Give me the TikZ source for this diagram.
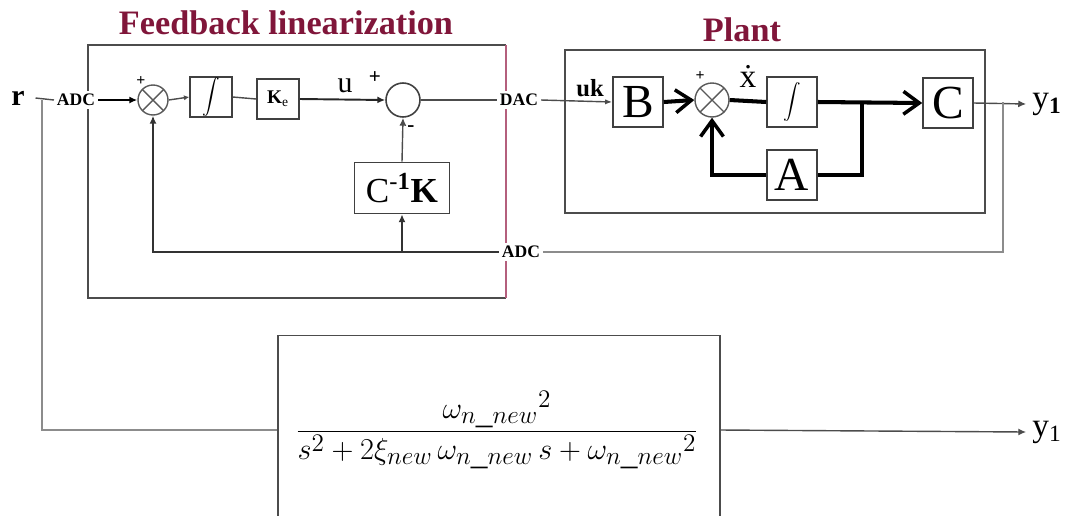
\documentclass[tikz,border=0pt]{standalone}
\usepackage{fontspec}
\setmainfont{Liberation Serif}
\usetikzlibrary{arrows.meta,positioning}
\definecolor{maroon}{RGB}{128,22,58}
\definecolor{rimpink}{RGB}{180,95,125}

\begin{document}
\begin{tikzpicture}[x=0.02cm, y=-0.02cm, >={Latex[length=4.5pt,width=4pt]},
  wire/.style={draw=black!70, line width=0.8pt},
  pale/.style={draw=black!45, line width=0.8pt},
  thk/.style={draw=black, line width=2.3pt},
  barb/.style={-{Straight Barb[length=9pt,width=13pt,line width=2pt]}},
  blk/.style={draw=black!75, line width=0.9pt, minimum width=0.84cm, minimum height=0.8cm, inner sep=0pt},
  pblk/.style={draw=black!75, line width=0.9pt, minimum width=1cm, minimum height=1cm, inner sep=0pt, font=\fontsize{27}{27}\selectfont},
  sumx/.style={circle, draw=black!65, line width=0.8pt, minimum size=0.6cm, inner sep=0pt,
    path picture={\draw[black!65, line width=0.8pt]
      (path picture bounding box.north west) -- (path picture bounding box.south east)
      (path picture bounding box.south west) -- (path picture bounding box.north east);}},
  lab/.style={fill=white, inner sep=1.5pt, font=\fontsize{10}{10}\selectfont\bfseries},
  ttl/.style={text=maroon, font=\fontsize{19.5}{22}\selectfont\bfseries},
  sgn/.style={inner sep=0pt, font=\fontsize{9}{9}\selectfont\bfseries}]
  \useasboundingbox (0,0) rectangle (1078,515);

  % titles
  \node[ttl] (fltitle) at (286,23) {Feedback linearization};
  \node[ttl] (pltitle) at (742,30) {Plant};

  % frames
  \draw[black!70, line width=0.9pt] (506,45) -- (88,45) -- (88,298) -- (506,298);
  \draw[rimpink, line width=0.9pt] (506,45) -- (506,298);
  \draw[black!70, line width=0.9pt] (565,50) rectangle (985,213);

  % feedback linearization blocks
  \node[inner sep=6pt, font=\fontsize{17}{17}\selectfont\bfseries] (r) at (18,98) {r};
  \coordinate (rj) at (42,100);
  \node[lab] (adcin) at (76,100) {ADC};
  \node[sumx] (s1) at (153,100) {};
  \node[blk, font=\fontsize{11}{11}\selectfont] (int1) at (211,97) {$\displaystyle\int$};
  \node[blk, font=\fontsize{11}{11}\selectfont] (ke) at (278,99) {\textbf{K}\textsubscript{e}};
  \node[circle, draw=black!75, line width=0.9pt, minimum size=0.68cm, inner sep=0pt] (s2) at (403,100) {};
  \node[lab] (dac) at (519,100) {DAC};
  \node[blk, minimum width=1.9cm, minimum height=1.02cm, font=\fontsize{20}{20}\selectfont] (cik) at (402,188)
    {C\textsuperscript{-\textbf{1}}\textbf{K}};
  \node[lab] (adcfb) at (521,252) {ADC};
  \coordinate (fbj) at (402,252);

  % signs and signal names
  \node[sgn] (p1) at (141,81) {+};
  \node[sgn, font=\fontsize{12}{12}\selectfont\bfseries] (p2) at (375,78) {+};
  \node[sgn, font=\fontsize{12}{12}\selectfont\bfseries] (m2) at (411,129) {-};
  \node[font=\fontsize{17}{17}\selectfont] (u) at (345,86) {u};

  % plant blocks
  \node[pblk] (B) at (638,102) {B};
  \node[sumx, minimum size=0.68cm] (s3) at (712,100) {};
  \node[pblk, font=\fontsize{17}{17}\selectfont] (int2) at (792,102) {$\displaystyle\int$};
  \node[pblk] (C) at (948,103) {C};
  \node[pblk] (A) at (792,175) {A};
  \coordinate (br) at (862,102);
  \coordinate (yj) at (1003,102);
  \node[font=\fontsize{19}{19}\selectfont] (y1) at (1047,104) {y\textsubscript{\textbf{1}}};
  \node[font=\fontsize{14}{14}\selectfont\bfseries] (uk) at (590,88) {uk};
  \node[sgn] (p3) at (700,76) {+};
  \node[inner sep=0pt, font=\fontsize{19}{19}\selectfont] (xd) at (748,76) {ẋ};

  % feedback linearization wiring
  \draw[wire] (r.east) -- (adcin.west);
  \draw[black, line width=1.1pt, ->] (adcin.east) -- (s1.west);
  \draw[wire, -{Latex[length=3pt,width=3pt]}] (s1.east) -- (int1.west);
  \draw[wire] (int1.east) -- (ke.west);
  \draw[black!85, line width=1.1pt, ->] (ke.east) -- (s2.west);
  \draw[wire] (s2.east) -- (dac.west);
  \draw[wire, ->] (cik.north) -- (s2.south);
  \draw[black!80, line width=1pt, ->] (adcfb.west) -| (s1.south);
  \draw[black!80, line width=1pt, ->] (fbj) -- (cik.south);

  % plant wiring
  \draw[wire, -{Latex[length=4pt,width=3pt]}] (dac.east) -- (B.west);
  \draw[thk, barb] (B.east) -- (s3.west);
  \draw[thk] (s3.east) -- (int2.west);
  \draw[thk, barb] (int2.east) -- (C.west);
  \draw[thk] (br) |- (A.east);
  \draw[thk, barb] (A.west) -| (s3.south);
  \draw[wire, ->] (C.east) -- (y1.west);
  \draw[pale] (yj) |- (adcfb.east);

  % reference model
  \node[draw=black!70, line width=0.9pt, minimum width=8.84cm, minimum height=3.7cm] (tf) at (499,428) {};
  \node[font=\fontsize{19}{23}\selectfont] (frac) at (497,430)
    {$\displaystyle\frac{{\omega_{n\_new}}^{2}}{s^{2}+2\xi_{new}\,\omega_{n\_new}\,s+{\omega_{n\_new}}^{2}}$};
  \node[font=\fontsize{19}{19}\selectfont] (y1b) at (1047,432) {y\textsubscript{1}};
  \draw[pale] (rj) |- (tf.west |- frac);
  \draw[wire, ->] (tf.east |- frac) -- (y1b.west);
\end{tikzpicture}
\end{document}
